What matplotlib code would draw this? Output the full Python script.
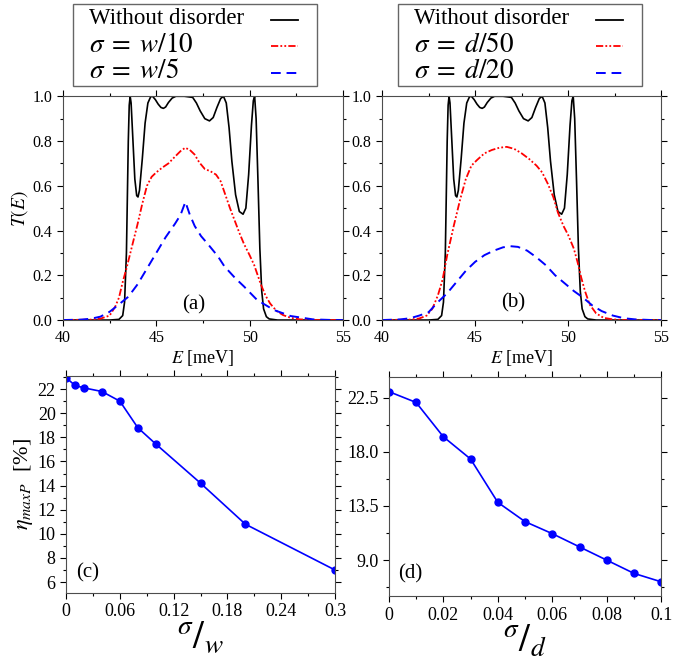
import numpy as np
import matplotlib
matplotlib.use("Agg")
import matplotlib.pyplot as plt
from matplotlib.lines import Line2D
from matplotlib.patches import Rectangle
from matplotlib.ticker import MultipleLocator, FixedLocator, FormatStrFormatter

plt.rcParams['font.family'] = ['Liberation Serif', 'DejaVu Serif']
plt.rcParams['mathtext.fontset'] = 'stix'

# ---------------- data ----------------
# clean transmission (same in both panels)
E_clean = [40.0, 42.5, 43.0, 43.2, 43.3, 43.4, 43.45, 43.5, 43.55, 43.6, 43.65,
           43.75, 43.85, 43.95, 44.02, 44.1, 44.25, 44.4, 44.55, 44.7, 44.8,
           44.95, 45.1, 45.25, 45.38, 45.5, 45.65, 45.85, 46.05, 46.5, 46.95,
           47.15, 47.35, 47.6, 47.85, 48.05, 48.25, 48.45, 48.6, 48.75, 48.9,
           49.05, 49.25, 49.45, 49.65, 49.8, 49.95, 50.1, 50.2, 50.27, 50.35,
           50.45, 50.55, 50.65, 50.75, 50.9, 51.05, 51.5, 55.0]
T_clean = [0.0, 0.0, 0.003, 0.02, 0.08, 0.3, 0.55, 0.8, 0.96, 1.0, 0.97,
           0.8, 0.63, 0.556, 0.55, 0.58, 0.72, 0.88, 0.97, 0.998, 1.0,
           0.985, 0.965, 0.95, 0.946, 0.952, 0.972, 0.992, 1.0, 1.0, 0.995,
           0.97, 0.935, 0.9, 0.89, 0.905, 0.95, 0.99, 1.0, 0.97, 0.86,
           0.71, 0.56, 0.485, 0.473, 0.5, 0.65, 0.87, 0.98, 1.0, 0.9,
           0.62, 0.32, 0.13, 0.05, 0.015, 0.005, 0.0, 0.0]

# panel (a): sigma = w/10, w/5
E_a_red = [40.0, 41.5, 42.0, 42.5, 42.8, 43.0, 43.2, 43.4, 43.7, 44.0, 44.25,
           44.5, 44.75, 45.0, 45.3, 45.65, 46.0, 46.3, 46.55, 46.8, 47.05,
           47.3, 47.6, 47.9, 48.2, 48.45, 48.7, 48.95, 49.2, 49.45, 49.7,
           50.0, 50.25, 50.6, 50.85, 51.1, 51.45, 51.8, 52.2, 52.7, 53.5, 55.0]
T_a_red = [0.0, 0.002, 0.006, 0.02, 0.06, 0.10, 0.17, 0.23, 0.33, 0.43, 0.52,
           0.6, 0.64, 0.66, 0.68, 0.70, 0.73, 0.755, 0.77, 0.76, 0.74,
           0.705, 0.675, 0.665, 0.65, 0.62, 0.56, 0.5, 0.445, 0.39, 0.34,
           0.29, 0.245, 0.16, 0.11, 0.074, 0.04, 0.022, 0.01, 0.003, 0.0, 0.0]
E_a_blue = [40.0, 41.0, 41.5, 42.0, 42.5, 43.0, 43.5, 44.0, 44.5, 45.0, 45.5,
            46.0, 46.3, 46.56, 46.8, 47.06, 47.4, 47.76, 48.3, 48.65, 49.2,
            49.7, 50.4, 51.3, 52.2, 53.4, 54.5, 55.0]
T_a_blue = [0.0, 0.002, 0.006, 0.015, 0.037, 0.07, 0.104, 0.16, 0.23, 0.30, 0.37,
            0.43, 0.47, 0.528, 0.47, 0.42, 0.375, 0.34, 0.285, 0.24, 0.19,
            0.15, 0.09, 0.045, 0.018, 0.003, 0.0, 0.0]

# panel (b): sigma = d/50, d/20
E_b_red = [40.0, 41.5, 42.0, 42.4, 42.7, 43.0, 43.25, 43.5, 43.85, 44.2, 44.5,
           44.8, 45.1, 45.5, 45.9, 46.3, 46.7, 47.1, 47.5, 47.9, 48.3, 48.6,
           48.9, 49.2, 49.45, 49.75, 50.0, 50.3, 50.5, 50.7, 50.9, 51.15,
           51.5, 51.9, 52.4, 53.0, 55.0]
T_b_red = [0.0, 0.002, 0.007, 0.02, 0.05, 0.11, 0.18, 0.29, 0.42, 0.54, 0.63,
           0.69, 0.715, 0.745, 0.76, 0.77, 0.774, 0.765, 0.745, 0.72, 0.69, 0.66,
           0.61, 0.55, 0.48, 0.42, 0.38, 0.32, 0.26, 0.19, 0.13, 0.07,
           0.03, 0.01, 0.003, 0.0, 0.0]
E_b_blue = [40.0, 41.0, 41.5, 42.0, 42.5, 43.0, 43.5, 44.0, 44.5, 45.0, 45.5,
            46.0, 46.5, 46.9, 47.3, 47.8, 48.3, 48.8, 49.3, 49.8, 50.3, 50.8,
            51.3, 51.8, 52.4, 53.0, 53.6, 54.5, 55.0]
T_b_blue = [0.0, 0.003, 0.008, 0.02, 0.035, 0.08, 0.12, 0.17, 0.22, 0.26, 0.29,
            0.31, 0.325, 0.33, 0.327, 0.31, 0.28, 0.245, 0.2, 0.165, 0.13, 0.1,
            0.065, 0.04, 0.02, 0.008, 0.003, 0.0, 0.0]

# panel (c): efficiency vs sigma/w
sig_w = [0.0, 0.01, 0.02, 0.04, 0.06, 0.08, 0.1, 0.15, 0.2, 0.3]
eta_w = [22.95, 22.3, 22.1, 21.8, 21.0, 18.8, 17.45, 14.2, 10.8, 7.0]

# panel (d): efficiency vs sigma/d
sig_d = [0.0, 0.01, 0.02, 0.03, 0.04, 0.05, 0.06, 0.07, 0.08, 0.09, 0.1]
eta_d = [23.0, 22.1, 19.25, 17.4, 13.8, 12.2, 11.2, 10.1, 9.0, 7.9, 7.2]

labels_a = ['Without disorder', r'$\sigma\;=\;w/10$', r'$\sigma\;=\;w/5$']
labels_b = ['Without disorder', r'$\sigma\;=\;d/50$', r'$\sigma\;=\;d/20$']

# ---------------- figure ----------------
W, H = 681, 664
fig = plt.figure(figsize=(W / 100, H / 100), dpi=100)
ax_a = fig.add_axes([0.0925, 0.518, 0.411, 0.337])
ax_b = fig.add_axes([0.561, 0.518, 0.410, 0.337])
ax_c = fig.add_axes([0.097, 0.107, 0.395, 0.327])
ax_d = fig.add_axes([0.571, 0.102, 0.400, 0.330])

red_dash = (0, (4, 1.2, 1, 1.2, 1, 1.2))
blue_dash = (0, (5, 3))


def style_axes(ax, size):
    ax.tick_params(which='both', direction='out', top=True, right=True,
                   labelsize=size, width=0.8)
    ax.tick_params(which='major', length=4)
    ax.tick_params(which='minor', length=2.5)
    for sp in ax.spines.values():
        sp.set_linewidth(0.8)
        sp.set_color('0.3')


def draw_key(x0, labels):
    # boxed key: text on the left, line samples on the right (pixel layout)
    fx = lambda px: px / W
    fy = lambda py: 1 - py / H
    fig.add_artist(Rectangle((fx(x0), fy(86)), fx(244), 82 / H,
                             transform=fig.transFigure, fill=False,
                             ec='0.4', lw=1.0))
    rows_y = [19, 45, 72]
    styles = [dict(color='black', lw=1.3),
              dict(color='red', lw=1.3, linestyle=red_dash),
              dict(color='blue', lw=1.4, linestyle=blue_dash)]
    for lab, ry, st in zip(labels, rows_y, styles):
        fig.text(fx(x0 + 16), fy(ry), lab, fontsize=19.5 if '$' in lab else 16.5,
                 ha='left', va='center')
        fig.add_artist(Line2D([fx(x0 + 198), fx(x0 + 225)], [fy(ry + 1), fy(ry + 1)],
                              transform=fig.transFigure, **st))


def transmission(ax, E_r, T_r, E_bl, T_bl, tag, tag_xy):
    ax.plot(E_clean, T_clean, color='black', lw=1.2)
    ax.plot(E_r, T_r, color='red', lw=1.3, linestyle=red_dash)
    ax.plot(E_bl, T_bl, color='blue', lw=1.4, linestyle=blue_dash)
    ax.set_xlim(40, 55)
    ax.set_ylim(0, 1.0)
    ax.xaxis.set_major_locator(MultipleLocator(5))
    ax.xaxis.set_minor_locator(MultipleLocator(2.5))
    ax.yaxis.set_major_locator(MultipleLocator(0.2))
    ax.yaxis.set_minor_locator(MultipleLocator(0.1))
    ax.yaxis.set_major_formatter(FormatStrFormatter('%.1f'))
    style_axes(ax, 11.5)
    ax.set_xlabel(r'$E$ [meV]', fontsize=13, labelpad=1)
    ax.text(tag_xy[0], tag_xy[1], tag, fontsize=15, ha='center', va='center')


transmission(ax_a, E_a_red, T_a_red, E_a_blue, T_a_blue, '(a)', (47.0, 0.07))
transmission(ax_b, E_b_red, T_b_red, E_b_blue, T_b_blue, '(b)', (47.07, 0.075))
ax_a.set_ylabel(r'$T(E)$', fontsize=14, labelpad=2)
draw_key(73, labels_a)
draw_key(398, labels_b)

# panel (c)
ax_c.plot(sig_w, eta_w, color='blue', lw=1.2, marker='o', ms=5)
ax_c.set_xlim(0, 0.3)
ax_c.set_ylim(5.1, 23.1)
ax_c.xaxis.set_major_locator(FixedLocator([0, 0.06, 0.12, 0.18, 0.24, 0.3]))
ax_c.set_xticklabels(['0', '0.06', '0.12', '0.18', '0.24', '0.3'])
ax_c.xaxis.set_minor_locator(MultipleLocator(0.03))
ax_c.yaxis.set_major_locator(MultipleLocator(2))
ax_c.yaxis.set_minor_locator(MultipleLocator(1))
style_axes(ax_c, 13)
ax_c.set_ylabel(r'$\eta_{maxP}$  [%]', fontsize=16, labelpad=2)
ax_c.set_xlabel(r'${}^{\sigma}/_{w}$', fontsize=28, labelpad=0)
ax_c.text(0.024, 6.75, '(c)', fontsize=15, ha='center', va='center')

# panel (d)
ax_d.plot(sig_d, eta_d, color='blue', lw=1.2, marker='o', ms=5)
ax_d.set_xlim(0, 0.1)
ax_d.set_ylim(6.0, 24.2)
ax_d.xaxis.set_major_locator(FixedLocator([0, 0.02, 0.04, 0.06, 0.08, 0.1]))
ax_d.set_xticklabels(['0', '0.02', '0.04', '0.06', '0.08', '0.1'])
ax_d.xaxis.set_minor_locator(MultipleLocator(0.01))
ax_d.yaxis.set_major_locator(FixedLocator([9.0, 13.5, 18.0, 22.5]))
ax_d.yaxis.set_major_formatter(FormatStrFormatter('%.1f'))
ax_d.yaxis.set_minor_locator(FixedLocator([6.75, 11.25, 15.75, 20.25]))
style_axes(ax_d, 13)
ax_d.set_xlabel(r'${}^{\sigma}/_{d}$', fontsize=28, labelpad=0)
ax_d.text(0.008, 7.86, '(d)', fontsize=15, ha='center', va='center')

fig.savefig('out.png', dpi=100)
